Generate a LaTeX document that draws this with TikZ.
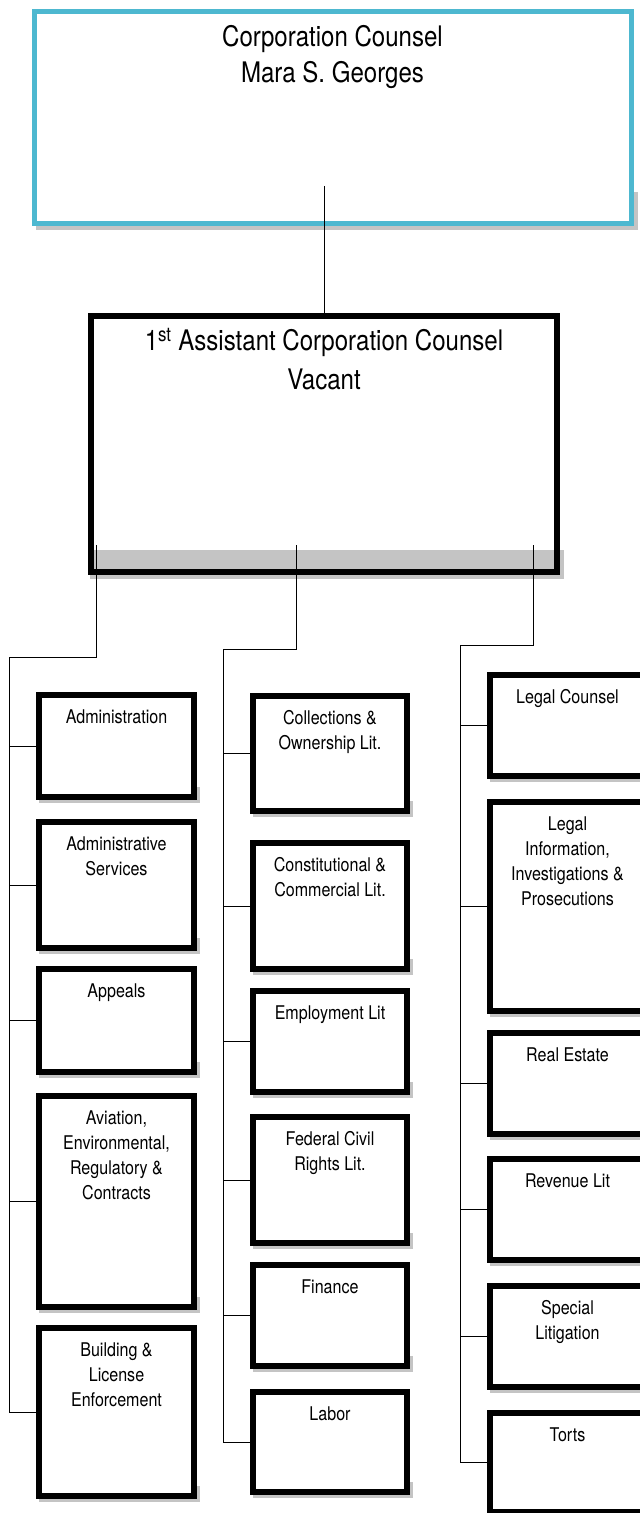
\documentclass[tikz,border=0pt]{standalone}
\usepackage{fontspec}
\setmainfont{TeX Gyre Heros}[FakeStretch=0.85]
\definecolor{topcyan}{RGB}{77,184,208}
\definecolor{shadowgray}{RGB}{196,196,196}
\newcommand\smallfont{\fontsize{18.9bp}{25bp}\selectfont}
\newcommand\bigfont[1]{\fontsize{28.3bp}{#1}\selectfont}
\tikzset{
  orgbox/.style={draw=black, line width=6bp, inner sep=0pt, anchor=north west},
  topbox/.style={draw=topcyan, line width=5bp, inner sep=0pt, anchor=north west},
  shadowfill/.style={fill=shadowgray},
  link/.style={draw=black, line width=0.9bp},
}
% #1 name, #2 x0, #3 y0, #4 x1, #5 y1 (outer edges, px), #6 text
\newcommand\unitbox[6]{%
  \fill[shadowfill] (#2+6,#5) rectangle (#4+6,#5+6);
  \fill[shadowfill] (#4,#5-10) rectangle (#4+6,#5+6);
  \pgfmathsetmacro\bw{#4-#2-6}\pgfmathsetmacro\bh{#5-#3-6}%
  \node[orgbox] (#1) at (#2+3,#3+3)
    {\begin{minipage}[t][\bh bp][t]{\bw bp}\centering\smallfont\vspace*{10.8bp}\strut #6\end{minipage}};
}
\begin{document}
\begin{tikzpicture}[x=1bp,y=-1bp]
\useasboundingbox (0,0) rectangle (640,1513);
\clip (0,0) rectangle (640,1513);
\fill[white] (0,0) rectangle (640,1513);

% top box
\fill[shadowfill] (36,223) rectangle (638,230);
\fill[shadowfill] (631,192) rectangle (638,230);
\node[topbox] (cc) at (31.5,9.5)
  {\begin{minipage}[t][211bp][t]{597bp}\centering\bigfont{36bp}\vspace*{9.2bp}\strut Corporation Counsel\\Mara S. Georges\end{minipage}};

% second box
\fill[shadowfill] (90,550) rectangle (564,579);
\node[orgbox] (fa) at (88,313)
  {\begin{minipage}[t][256bp][t]{466bp}\centering\bigfont{39bp}\vspace*{6.8bp}\strut 1\textsuperscript{st} Assistant Corporation Counsel\\Vacant\end{minipage}};

% left column
\unitbox{adm}{33}{689}{194}{797}{Administration}
\unitbox{ads}{33}{816}{194}{948}{Administrative\\Services}
\unitbox{app}{33}{963}{194}{1072}{Appeals}
\unitbox{avi}{33}{1090}{194}{1307}{Aviation,\\Environmental,\\Regulatory \&\\Contracts}
\unitbox{bld}{33}{1322}{194}{1496}{Building \&\\License\\Enforcement}

% middle column
\unitbox{col}{247}{690}{407}{811}{Collections \&\\Ownership Lit.}
\unitbox{con}{247}{837}{407}{969}{Constitutional \&\\Commercial Lit.}
\unitbox{emp}{247}{985}{407}{1092}{Employment Lit}
\unitbox{fed}{247}{1111}{407}{1243}{Federal Civil\\Rights Lit.}
\unitbox{fin}{247}{1259}{407}{1366}{Finance}
\unitbox{lab}{247}{1386}{407}{1492}{Labor}

% right column
\unitbox{lco}{484}{669}{645}{776}{Legal Counsel}
\unitbox{lin}{484}{796}{645}{1011}{Legal\\Information,\\Investigations \&\\Prosecutions}
\unitbox{res}{484}{1027}{645}{1134}{Real Estate}
\unitbox{rev}{484}{1153}{645}{1260}{Revenue Lit}
\unitbox{spl}{484}{1280}{645}{1387}{Special\\Litigation}
\unitbox{trt}{484}{1407}{645}{1512}{Torts}

% connectors
\coordinate (s0) at (324,186);
\draw[link] (s0) -- (s0 |- fa.north);

\coordinate (sl) at (96,545);
\coordinate (tl) at (9,657);
\draw[link] (sl) |- (tl) -- (tl |- bld.west);
\foreach \b in {adm,ads,app,avi,bld}{\draw[link] (\b.west) -- (\b.west -| tl);}

\coordinate (sm) at (296,545);
\coordinate (tm) at (223,649);
\draw[link] (sm) |- (tm) -- (tm |- lab.west);
\foreach \b in {col,con,emp,fed,fin,lab}{\draw[link] (\b.west) -- (\b.west -| tm);}

\coordinate (sr) at (533,545);
\coordinate (tr) at (460,645);
\draw[link] (sr) |- (tr) -- (tr |- trt.west);
\foreach \b in {lco,lin,res,rev,spl,trt}{\draw[link] (\b.west) -- (\b.west -| tr);}
\end{tikzpicture}
\end{document}
